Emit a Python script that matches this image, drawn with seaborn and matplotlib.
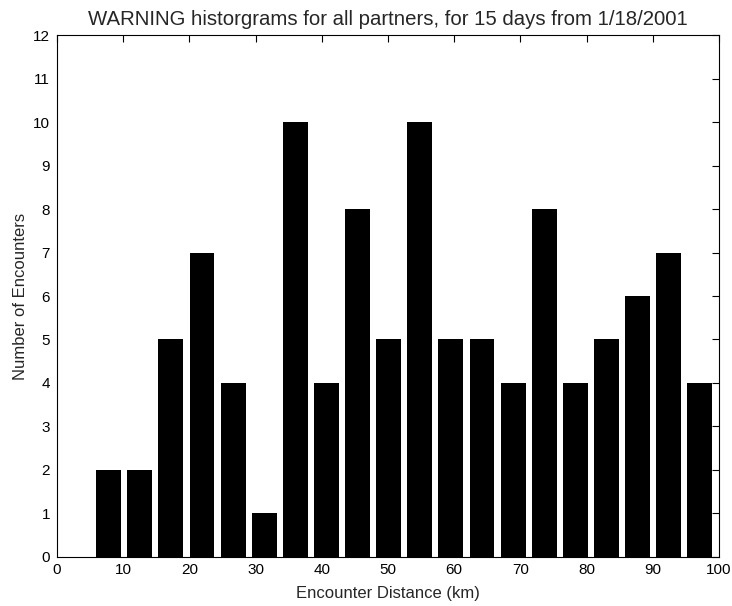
import matplotlib
matplotlib.use("Agg")
import matplotlib.pyplot as plt
import seaborn as sns
import pandas as pd

# Histogram bin centers (km) and encounter counts per bin
bin_centers = [7.8, 12.5, 17.2, 21.9, 26.6, 31.3, 36.0, 40.7, 45.4, 50.1,
               54.8, 59.5, 64.2, 68.9, 73.6, 78.3, 83.0, 87.7, 92.4, 97.1]
counts = [2, 2, 5, 7, 4, 1, 10, 4, 8, 5,
          10, 5, 5, 4, 8, 4, 5, 6, 7, 4]

x_ticks = [0, 10, 20, 30, 40, 50, 60, 70, 80, 90, 100]
y_ticks = list(range(0, 13))

title = "WARNING historgrams for all partners, for 15 days from 1/18/2001"
x_label = "Encounter Distance (km)"
y_label = "Number of Encounters"

sns.set_style("white")
plt.rcParams["font.family"] = ["Liberation Sans", "DejaVu Sans"]

df = pd.DataFrame({"distance": bin_centers, "count": counts})

fig = plt.figure(figsize=(7.32, 6.06), dpi=100)
ax = fig.add_axes([0.0779, 0.0809, 0.9822 - 0.0779, 0.9422 - 0.0809])

sns.barplot(data=df, x="distance", y="count", native_scale=True, width=0.8,
            color="black", saturation=1, linewidth=0, errorbar=None, ax=ax)

ax.set_xlim(0, 100)
ax.set_ylim(0, 12)
ax.set_xticks(x_ticks)
ax.set_xticklabels([str(t) for t in x_ticks])
ax.set_yticks(y_ticks)
ax.set_yticklabels([str(t) for t in y_ticks])

ax.tick_params(axis="both", which="both", direction="in", length=5, width=0.8,
               labelsize=11, colors="black", top=True, right=True, pad=4)
ax.tick_params(axis="y", pad=5)
ax.set_axisbelow(False)
for side in ["left", "right", "top", "bottom"]:
    ax.spines[side].set_visible(True)
    ax.spines[side].set_color("black")
    ax.spines[side].set_linewidth(0.8)

ax.set_title(title, fontsize=14.7, pad=7)
ax.set_xlabel(x_label, fontsize=12, labelpad=7)
ax.set_ylabel(y_label, fontsize=12, labelpad=4)

fig.savefig("out.png", dpi=100, facecolor="white")
